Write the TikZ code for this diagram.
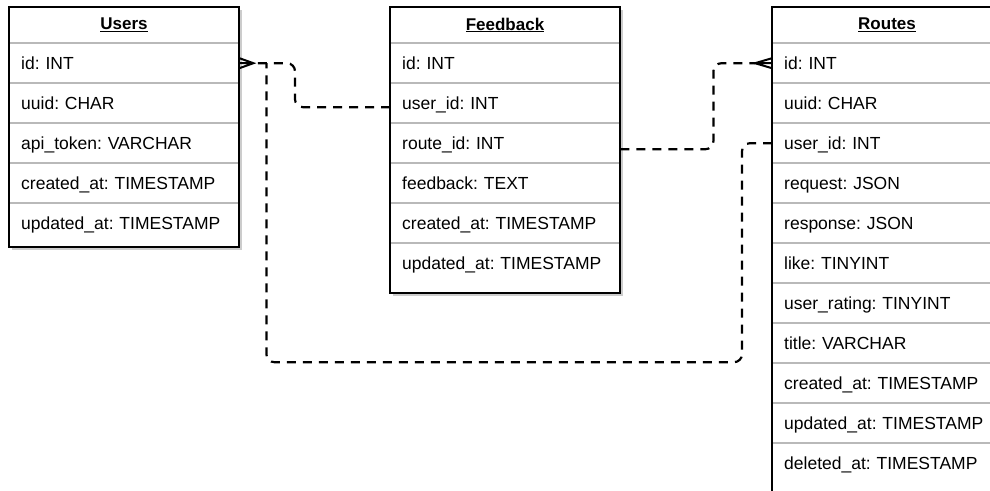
\documentclass[tikz,border=0pt]{standalone}
\usepackage{fontspec}
\setmainfont{Liberation Sans}
\usetikzlibrary{positioning, shadows, calc}
\definecolor{rowgray}{RGB}{185, 185, 185}
\frenchspacing

\begin{document}
\begin{tikzpicture}[x=1pt, y=-1pt,
  table/.style={draw=black, line width=1.4pt, fill=white,
    drop shadow={shadow xshift=3pt, shadow yshift=-3pt, opacity=0.4}},
  title/.style={font=\fontsize{17}{20}\selectfont\bfseries},
  field/.style={anchor=north west, minimum height=40pt, inner ysep=0pt,
    inner xsep=12pt, text width=206pt, text height=14pt, text depth=2pt,
    align=left, font=\fontsize{17.5}{20}\selectfont},
  rowline/.style={draw=rowgray, line width=1.5pt},
  link/.style={line width=2.2pt, dash pattern=on 9pt off 7pt, rounded corners=8pt},
  foot/.style={line width=2pt}]
  \useasboundingbox (0,0) rectangle (990,490);
  \clip (0,0) rectangle (990,490);

  % Users table
  \draw[table] (9,7) rectangle (239,247);
  \node[title] (users) at (124,25) {\underline{Users}};
  \foreach \fld [count=\i] in {id: INT, uuid: CHAR, api\_token: VARCHAR,
      created\_at: TIMESTAMP, updated\_at: TIMESTAMP} {
    \node[field] (users-\i) at (9,{3+40*\i}) {\fld};
    \draw[rowline] ([xshift=1pt]users-\i.north west) -- ([xshift=-1pt]users-\i.north east);
  }

  % Feedback table
  \draw[table] (390,7) rectangle (620,293);
  \node[title] (feedback) at (505,25) {\underline{Feedback}};
  \foreach \fld [count=\i] in {id: INT, user\_id: INT, route\_id: INT, feedback: TEXT,
      created\_at: TIMESTAMP, updated\_at: TIMESTAMP} {
    \node[field] (feedback-\i) at (390,{3+40*\i}) {\fld};
    \draw[rowline] ([xshift=1pt]feedback-\i.north west) -- ([xshift=-1pt]feedback-\i.north east);
  }

  % Routes table
  \draw[table] (772,7) rectangle (1002,510);
  \node[title] (routes) at (887,25) {\underline{Routes}};
  \foreach \fld [count=\i] in {id: INT, uuid: CHAR, user\_id: INT, request: JSON,
      response: JSON, like: TINYINT, user\_rating: TINYINT, title: VARCHAR,
      created\_at: TIMESTAMP, updated\_at: TIMESTAMP, deleted\_at: TIMESTAMP} {
    \node[field] (routes-\i) at (772,{3+40*\i}) {\fld};
    \draw[rowline] ([xshift=1pt]routes-\i.north west) -- ([xshift=-1pt]routes-\i.north east);
  }

  % relations
  \draw[link] ([yshift=-4pt]feedback-2.west) -- ++(-95,0) |- ([xshift=14pt]users-1.east);
  \draw[link] ([yshift=-6pt]feedback-3.east) -- ++(93,0) |- ([xshift=-17pt]routes-1.west);
  \draw[link] (routes-3.west) -| ++(-30,219) -| ($(users-1.east)+(27,0)$);

  % crow's feet
  \draw[foot] ([yshift=5pt]users-1.east) -- ([xshift=14pt]users-1.east)
    -- ([yshift=-5pt]users-1.east) (users-1.east) -- ([xshift=14pt]users-1.east);
  \draw[foot] ([yshift=5pt]routes-1.west) -- ([xshift=-17pt]routes-1.west)
    -- ([yshift=-5pt]routes-1.west) (routes-1.west) -- ([xshift=-17pt]routes-1.west);
\end{tikzpicture}
\end{document}
